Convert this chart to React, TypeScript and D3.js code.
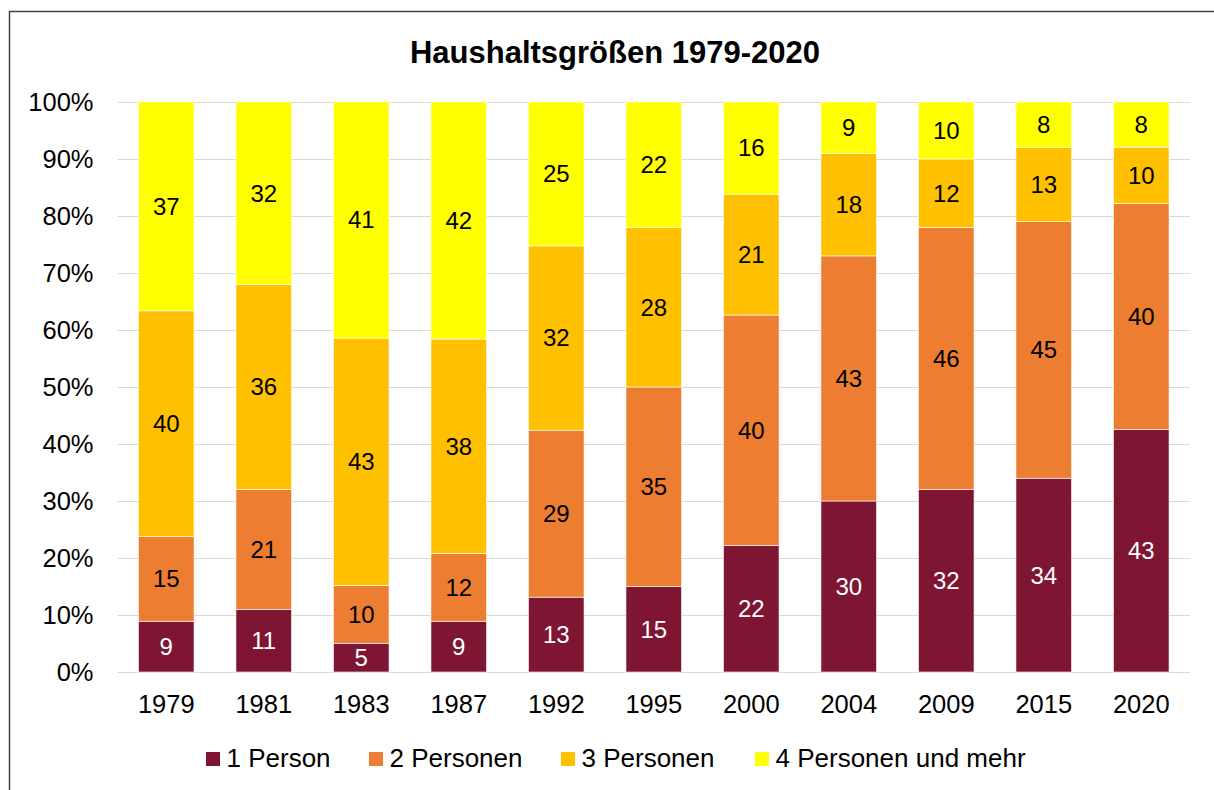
import * as d3 from "d3";
import { useEffect, useRef } from "react";

const years = ["1979", "1981", "1983", "1987", "1992", "1995", "2000", "2004", "2009", "2015", "2020"];
const seriesNames = ["1 Person", "2 Personen", "3 Personen", "4 Personen und mehr"];
const onePerson = [9, 11, 5, 9, 13, 15, 22, 30, 32, 34, 43];
const twoPersons = [15, 21, 10, 12, 29, 35, 40, 43, 46, 45, 40];
const threePersons = [40, 36, 43, 38, 32, 28, 21, 18, 12, 13, 10];
const fourPlus = [37, 32, 41, 42, 25, 22, 16, 9, 10, 8, 8];
const yTicks = [0, 0.1, 0.2, 0.3, 0.4, 0.5, 0.6, 0.7, 0.8, 0.9, 1];

const colors = ["#7E1532", "#ED7D31", "#FFC000", "#FFFF00"];
const labelColors = ["#ffffff", "#000000", "#000000", "#000000"];
const font = "'Liberation Sans', Arial, sans-serif";

export default function App() {
  const svgRef = useRef(null);

  const width = 1214;
  const height = 790;
  const margin = { top: 102, left: 117.5, right: 24, bottom: 118 };

  useEffect(() => {
    const table = years.map((year, i) => ({
      year,
      [seriesNames[0]]: onePerson[i],
      [seriesNames[1]]: twoPersons[i],
      [seriesNames[2]]: threePersons[i],
      [seriesNames[3]]: fourPlus[i],
    }));

    const stacked = d3.stack().keys(seriesNames).offset(d3.stackOffsetExpand)(table);

    const x = d3.scaleBand()
      .domain(years)
      .range([margin.left, width - margin.right])
      .paddingInner(0.43)
      .paddingOuter(0.215);

    const y = d3.scaleLinear()
      .domain([0, 1])
      .range([height - margin.bottom, margin.top]);

    const svg = d3.select(svgRef.current);
    svg.selectAll("*").remove();

    // outer frame
    svg.append("rect")
      .attr("x", 9.5)
      .attr("y", 11.5)
      .attr("width", 1220)
      .attr("height", 800)
      .attr("fill", "white")
      .attr("stroke", "#404040")
      .attr("stroke-width", 1.5);

    svg.append("text")
      .attr("x", 615)
      .attr("y", 63)
      .attr("text-anchor", "middle")
      .attr("font-family", font)
      .attr("font-weight", "bold")
      .attr("font-size", "31px")
      .attr("fill", "#000")
      .text("Haushaltsgrößen 1979-2020");

    // grid
    svg.append("g")
      .selectAll("line")
      .data(yTicks)
      .enter()
      .append("line")
      .attr("x1", margin.left)
      .attr("x2", width - margin.right)
      .attr("y1", d => Math.round(y(d)) + 0.5)
      .attr("y2", d => Math.round(y(d)) + 0.5)
      .attr("stroke", "#d9d9d9")
      .attr("stroke-width", 1.2);

    const yAxis = svg.append("g")
      .attr("transform", `translate(${margin.left},0)`)
      .call(d3.axisLeft(y).tickValues(yTicks).tickFormat(d3.format(".0%")).tickSize(0).tickPadding(24));
    yAxis.select(".domain").remove();
    yAxis.selectAll("text")
      .attr("font-family", font)
      .attr("font-size", "25.5px")
      .attr("fill", "#000")
      .attr("dy", "0.35em");

    const xAxis = svg.append("g")
      .attr("transform", `translate(0,${height - margin.bottom})`)
      .call(d3.axisBottom(x).tickSize(0).tickPadding(0));
    xAxis.select(".domain").remove();
    xAxis.selectAll("text")
      .attr("font-family", font)
      .attr("font-size", "25.5px")
      .attr("fill", "#000")
      .attr("y", 41)
      .attr("dy", 0);

    stacked.forEach((layer, i) => {
      const g = svg.append("g");
      g.selectAll("rect")
        .data(layer)
        .enter()
        .append("rect")
        .attr("x", d => x(d.data.year))
        .attr("width", x.bandwidth())
        .attr("y", d => y(d[1]))
        .attr("height", d => y(d[0]) - y(d[1]))
        .attr("fill", colors[i])
        .attr("stroke", "#ffffff")
        .attr("stroke-width", 0.6);

      g.selectAll("text")
        .data(layer)
        .enter()
        .append("text")
        .attr("x", d => x(d.data.year) + x.bandwidth() / 2)
        .attr("y", d => (y(d[0]) + y(d[1])) / 2)
        .attr("dy", "0.35em")
        .attr("text-anchor", "middle")
        .attr("font-family", font)
        .attr("font-size", "24px")
        .attr("fill", labelColors[i])
        .text(d => d.data[seriesNames[i]]);
    });

    // legend
    const legendX = [206, 369, 561, 755];
    const legend = svg.append("g");
    seriesNames.forEach((name, i) => {
      legend.append("rect")
        .attr("x", legendX[i])
        .attr("y", 752)
        .attr("width", 14)
        .attr("height", 14)
        .attr("fill", colors[i]);
      legend.append("text")
        .attr("x", legendX[i] + 20.5)
        .attr("y", 766.5)
        .attr("font-family", font)
        .attr("font-size", "26px")
        .attr("fill", "#000")
        .text(name);
    });
  }, []);

  return (
    <div style={{ position: "absolute", left: 0, top: 0 }}>
      <svg ref={svgRef} width={width} height={height} style={{ display: "block" }}></svg>
    </div>
  );
}
